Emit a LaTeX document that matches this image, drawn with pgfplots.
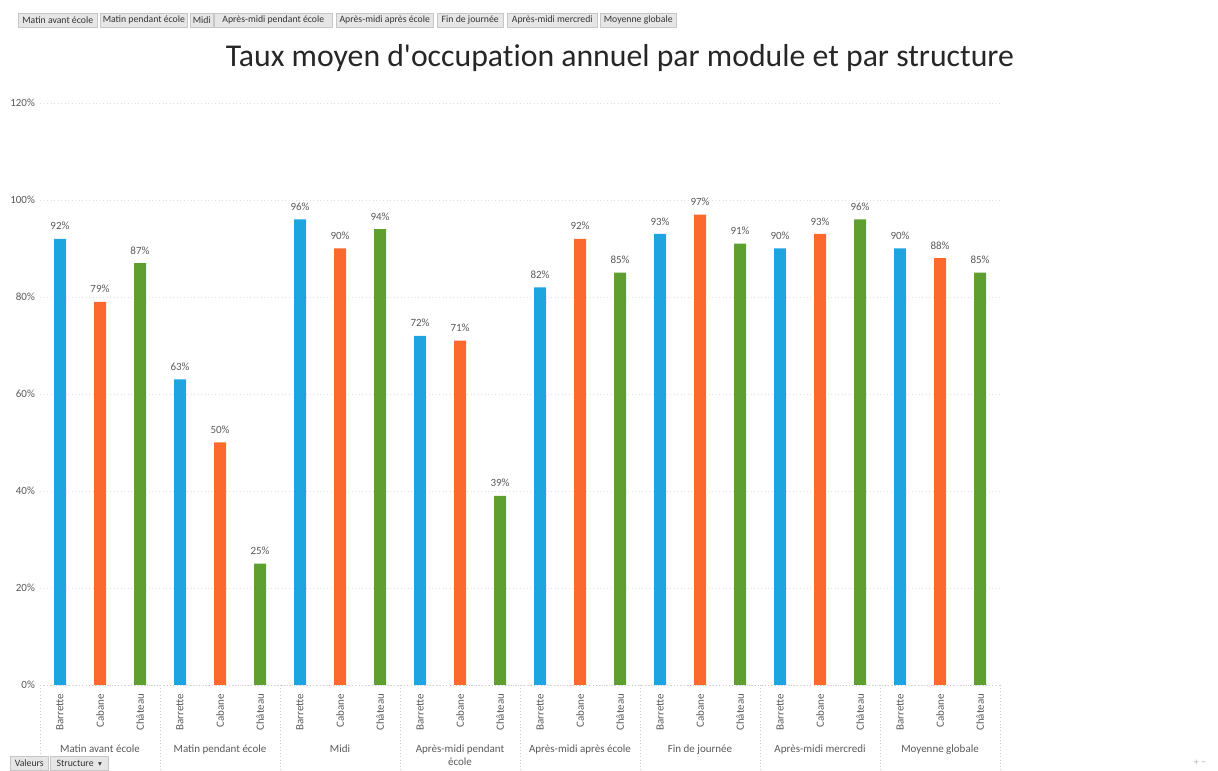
\documentclass[border=0pt]{standalone}
\usepackage{fontspec}
\setmainfont{Carlito}
\newfontfamily\titlefont{Carlito}[Ligatures=CommonOff]
\newfontfamily\dejavu{DejaVu Sans}
\usepackage{pgfplots}
\pgfplotsset{compat=1.18}
\definecolor{cBar}{HTML}{1EA5E0}
\definecolor{cCab}{HTML}{FB6A2C}
\definecolor{cCha}{HTML}{5E9F30}
\definecolor{txt}{HTML}{595959}
\definecolor{btn}{HTML}{E6E6E6}
\newcommand{\tinyf}{\fontsize{4.4}{5.2}\selectfont}
\begin{document}
\begin{tikzpicture}[x=0.4pt,y=0.4pt]
\useasboundingbox (0,0) rectangle (1218,771);
% top buttons
\tikzset{bt/.style={anchor=west, fill=btn, draw=gray!45, line width=0.2pt, inner sep=1pt, minimum height=5.6pt, font=\fontsize{3.9}{4.5}\selectfont, text=black!80}}
\node[bt, minimum width=31.6pt] at (18,751) {Matin avant école};
\node[bt, minimum width=34.4pt] at (100,751) {Matin pendant école};
\node[bt, minimum width=8pt] at (190,751) {Midi};
\node[bt, minimum width=47.2pt] at (214,751) {Après-midi pendant école};
\node[bt, minimum width=38.8pt] at (336,751) {Après-midi après école};
\node[bt, minimum width=26.4pt] at (437,751) {Fin de journée};
\node[bt, minimum width=36pt] at (507,751) {Après-midi mercredi};
\node[bt, minimum width=30.4pt] at (600,751) {Moyenne globale};
% title
\node[font=\titlefont\fontsize{12.7}{14}\selectfont, text=black!85] at (620,713) {Taux moyen d'occupation annuel par module et par structure};
% bottom buttons
\node[bt, minimum width=15.2pt] at (10,8) {Valeurs};
\node[bt, minimum width=23.2pt] at (50,8) {Structure \ {\dejavu\fontsize{3}{4}\selectfont ▾}};
\node[font=\fontsize{4}{5}\selectfont, text=gray!60] at (1200,8) {+ −};
\begin{axis}[
 at={(16pt,34.4pt)}, anchor=south west,
 scale only axis, width=384pt, height=232.8pt,
 xmin=-0.5, xmax=23.5, ymin=0, ymax=120,
 /pgf/number format/assume math mode=true,
 ytick={0,20,...,120},
 yticklabel={\pgfmathprintnumber{\tick}\%},
 yticklabel style={font=\tinyf, text=txt, xshift=1.5pt},
 xtick={0,...,23},
 xticklabels={Barrette,Cabane,Château,Barrette,Cabane,Château,Barrette,Cabane,Château,Barrette,Cabane,Château,Barrette,Cabane,Château,Barrette,Cabane,Château,Barrette,Cabane,Château,Barrette,Cabane,Château},
 xticklabel style={rotate=90, anchor=east, font=\tinyf, text=txt},
 major tick length=0pt,
 axis line style={draw=none},
 ymajorgrids, grid style={gray!25, densely dotted, line width=0.3pt},
 ybar, bar width=4.8pt, bar shift=0pt,
 nodes near coords={\pgfmathprintnumber{\pgfplotspointmeta}\%},
 nodes near coords style={font=\tinyf, text=txt},
 clip=false,
]
\addplot[fill=cBar, draw=none] coordinates {(0,92) (3,63) (6,96) (9,72) (12,82) (15,93) (18,90) (21,90)};
\addplot[fill=cCab, draw=none] coordinates {(1,79) (4,50) (7,90) (10,71) (13,92) (16,97) (19,93) (22,88)};
\addplot[fill=cCha, draw=none] coordinates {(2,87) (5,25) (8,94) (11,39) (14,85) (17,91) (20,96) (23,85)};
\draw[gray!40, densely dotted, line width=0.3pt] (axis cs:-0.5,0) -- (axis cs:23.5,0);
\draw[gray!40, densely dotted, line width=0.3pt] (axis cs:-0.5,0) -- ++(0pt,-34.4pt);
\draw[gray!40, densely dotted, line width=0.3pt] (axis cs:2.5,0) -- ++(0pt,-34.4pt);
\draw[gray!40, densely dotted, line width=0.3pt] (axis cs:5.5,0) -- ++(0pt,-34.4pt);
\draw[gray!40, densely dotted, line width=0.3pt] (axis cs:8.5,0) -- ++(0pt,-34.4pt);
\draw[gray!40, densely dotted, line width=0.3pt] (axis cs:11.5,0) -- ++(0pt,-34.4pt);
\draw[gray!40, densely dotted, line width=0.3pt] (axis cs:14.5,0) -- ++(0pt,-34.4pt);
\draw[gray!40, densely dotted, line width=0.3pt] (axis cs:17.5,0) -- ++(0pt,-34.4pt);
\draw[gray!40, densely dotted, line width=0.3pt] (axis cs:20.5,0) -- ++(0pt,-34.4pt);
\draw[gray!40, densely dotted, line width=0.3pt] (axis cs:23.5,0) -- ++(0pt,-34.4pt);
\tikzset{gl/.style={anchor=north, align=center, font=\tinyf, text=txt, yshift=-20.6pt}}
\node[gl] at (axis cs:1,0) {Matin avant école};
\node[gl] at (axis cs:4,0) {Matin pendant école};
\node[gl] at (axis cs:7,0) {Midi};
\node[gl] at (axis cs:10,0) {Après-midi pendant\\école};
\node[gl] at (axis cs:13,0) {Après-midi après école};
\node[gl] at (axis cs:16,0) {Fin de journée};
\node[gl] at (axis cs:19,0) {Après-midi mercredi};
\node[gl] at (axis cs:22,0) {Moyenne globale};
\end{axis}
\end{tikzpicture}
\end{document}
